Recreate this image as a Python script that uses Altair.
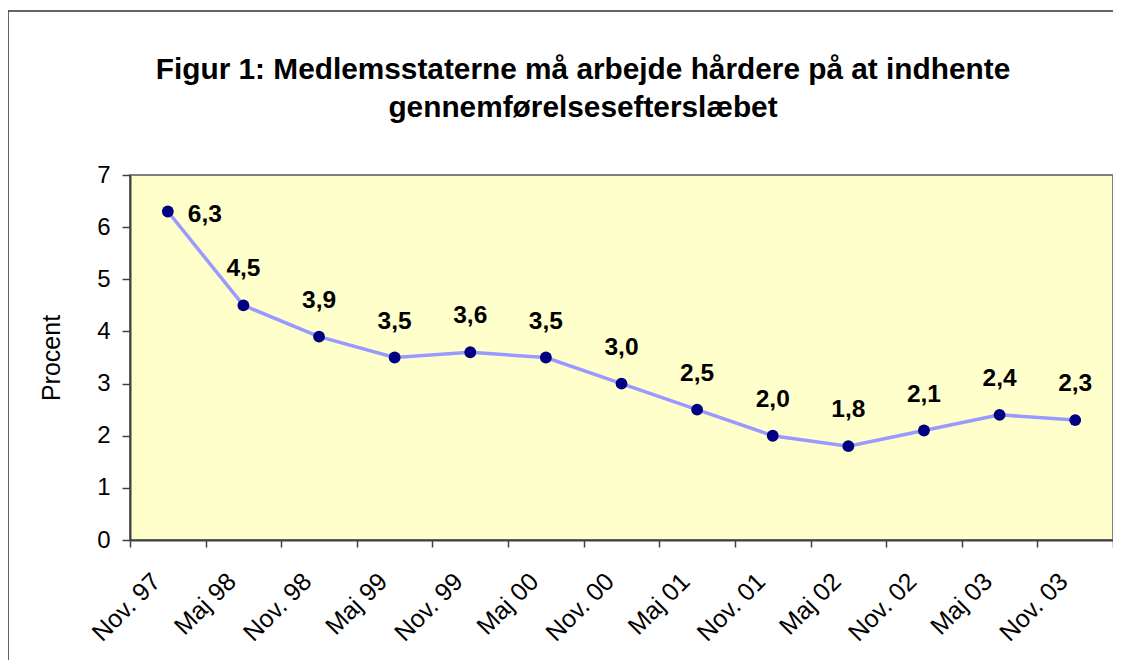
import altair as alt
import pandas as pd

categories = ["Nov. 97", "Maj 98", "Nov. 98", "Maj 99", "Nov. 99", "Maj 00", "Nov. 00",
              "Maj 01", "Nov. 01", "Maj 02", "Nov. 02", "Maj 03", "Nov. 03"]
values = [6.3, 4.5, 3.9, 3.5, 3.6, 3.5, 3.0, 2.5, 2.0, 1.8, 2.1, 2.4, 2.3]
value_labels = ["6,3", "4,5", "3,9", "3,5", "3,6", "3,5", "3,0", "2,5", "2,0", "1,8", "2,1", "2,4", "2,3"]
y_ticks = [0, 1, 2, 3, 4, 5, 6, 7]
title_lines = ["Figur 1: Medlemsstaterne må arbejde hårdere på at indhente",
               "gennemførelsesefterslæbet"]

df = pd.DataFrame({
    "periode": categories,
    "procent": values,
    "label": value_labels,
    "idx": list(range(len(categories))),
})

FONT = "Liberation Sans"
W, H = 983, 365
AXIS_COLOR = "#404040"

x = alt.X(
    "periode:N",
    sort=categories,
    bandPosition=0.5,
    scale=alt.Scale(type="band", paddingInner=0, paddingOuter=0),
    axis=alt.Axis(
        title=None,
        labelAngle=-45,
        labelAlign="right",
        labelBaseline="middle",
        labelFont=FONT,
        labelFontSize=25,
        labelColor="black",
        labelPadding=30,
        labelOffset=-12,
        tickBand="extent",
        tickSize=7,
        tickWidth=1.5,
        tickColor=AXIS_COLOR,
        domainColor=AXIS_COLOR,
        domainWidth=2,
        grid=False,
    ),
)

y = alt.Y(
    "procent:Q",
    scale=alt.Scale(domain=[0, 7], nice=False, zero=True),
    axis=alt.Axis(
        values=y_ticks,
        title="Procent",
        titleFont=FONT,
        titleFontSize=25,
        titleFontWeight="normal",
        titleColor="black",
        titleAngle=-90,
        titleX=-79,
        titleY=H / 2,
        titleAlign="center",
        titleBaseline="middle",
        labelFont=FONT,
        labelFontSize=24,
        labelColor="black",
        labelPadding=12,
        tickSize=8,
        tickWidth=1.5,
        tickColor=AXIS_COLOR,
        domainColor=AXIS_COLOR,
        domainWidth=2,
        grid=False,
    ),
)

base = alt.Chart(df).encode(x=x, y=y)

line = base.mark_line(color="#9999FF", strokeWidth=3.5)
points = base.mark_circle(size=140, color="#000080", opacity=1)

labels_main = base.transform_filter("datum.idx > 0").mark_text(
    font=FONT, fontSize=24.5, fontWeight="bold", color="black",
    align="center", baseline="alphabetic", dy=-29,
).encode(text="label:N")

labels_first = base.transform_filter("datum.idx == 0").mark_text(
    font=FONT, fontSize=24.5, fontWeight="bold", color="black",
    align="left", baseline="middle", dx=20, dy=3,
).encode(text="label:N")

one_row = alt.Data(values=[{"f": 1}])

frame = alt.Chart(one_row).mark_rect(
    fillOpacity=0, stroke="#333333", strokeWidth=1.5,
).encode(
    x=alt.value(-122), x2=alt.value(1020),
    y=alt.value(-164), y2=alt.value(540),
)

title1 = alt.Chart(one_row).mark_text(
    font=FONT, fontSize=29.8, fontWeight="bold", color="black",
    align="center", baseline="alphabetic",
).encode(x=alt.value(453), y=alt.value(-96), text=alt.value(title_lines[0]))

title2 = alt.Chart(one_row).mark_text(
    font=FONT, fontSize=29.8, fontWeight="bold", color="black",
    align="center", baseline="alphabetic",
).encode(x=alt.value(453), y=alt.value(-58), text=alt.value(title_lines[1]))

chart = alt.layer(frame, title1, title2, line, points, labels_main, labels_first).properties(
    width=W,
    height=H,
    background="white",
    autosize=alt.AutoSizeParams(type="none"),
    padding={"left": 122, "top": 167, "right": 0, "bottom": 120},
).configure_view(
    fill="#FFFFCC",
    stroke="#808080",
    strokeWidth=2,
)

chart.save("out.html", embed_options={"renderer": "svg", "actions": False})
